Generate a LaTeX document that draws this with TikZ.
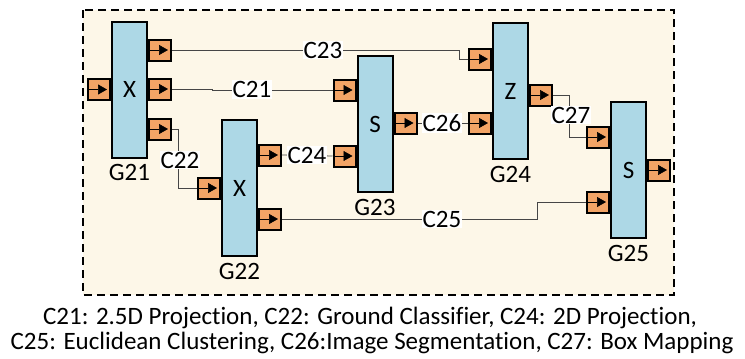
\documentclass[tikz,border=0pt]{standalone}
\usepackage{fontspec}
\setmainfont{Carlito}[Ligatures=NoCommon]
\usetikzlibrary{arrows.meta}
\definecolor{blockblue}{HTML}{ADD8E6}
\definecolor{portorange}{HTML}{F2A466}
\definecolor{cream}{HTML}{FDF7E8}

\begin{document}
\begin{tikzpicture}[x=1pt,y=-1pt,
  frame/.style={draw,line width=1.8pt,dash pattern=on 8pt off 5pt,fill=cream},
  block/.style={draw,line width=2pt,fill=blockblue,minimum width=35pt,minimum height=136pt,inner sep=0pt,font=\fontsize{25}{25}\selectfont},
  port/.style={draw,line width=2pt,fill=portorange,minimum width=22pt,minimum height=21pt,inner sep=0pt,
    path picture={\draw[line width=0.6pt,-{Triangle[length=9pt,width=10pt]}] (path picture bounding box.west) -- ([xshift=-3pt]path picture bounding box.east);}},
  wire/.style={draw=gray!55!black,line width=0.8pt},
  wlabel/.style={fill=white,inner sep=1pt,font=\fontsize{25}{25}\selectfont},
  gname/.style={anchor=north,inner sep=0pt,font=\fontsize{25}{25}\selectfont},
  caption/.style={font=\fontsize{25}{26}\selectfont}]
  \useasboundingbox (0,0) rectangle (745,359);
  \draw[frame] (83,10) rectangle (674,295);
  % blocks
  \foreach \blk/\x/\y/\t in {g21/129.5/89.5/X,g22/239.5/188/X,g23/375/124/S,g24/510.5/91/Z,g25/628.5/170/S}
    { \node[block] (\blk) at (\x,\y) {\t}; }
  \foreach \blk/\t in {g21/G21,g22/G22,g23/G23,g24/G24,g25/G25}
    { \node[gname] (\blk name) at ([yshift=-6pt]\blk.south) {\t}; }
  % input ports
  \foreach \blk/\k/\y in {g21/1/89.5,g22/1/188,g23/1/90,g23/2/156,g24/1/59,g24/2/123,g25/1/137,g25/2/202}
    { \node[port,anchor=east] (\blk i\k) at (\blk.west |- 0,\y) {}; }
  % output ports
  \foreach \blk/\k/\y in {g21/1/50,g21/2/89,g21/3/129,g22/1/155,g22/2/219,g23/1/123,g24/1/95,g25/1/170}
    { \node[port,anchor=west] (\blk o\k) at (\blk.east |- 0,\y) {}; }
  % wires
  \draw[wire] (g21o1.east) -| ([xshift=-9pt]g24i1.west) -- (g24i1.west);
  \draw[wire] (g21o2.east) -- ++(40,0) |- (g23i1.west);
  \draw[wire] (g21o3.east) -| ([xshift=-19pt]g22i1.west) -- (g22i1.west);
  \draw[wire] (g22o1.east) -- (g23i2.west);
  \draw[wire] (g22o2.east) -| ([xshift=-49pt]g25i2.west) -- (g25i2.west);
  \draw[wire] (g23o1.east) -- (g24i2.west);
  \draw[wire] (g24o1.east) -| ([xshift=-17pt]g25i1.west) -- (g25i1.west);
  % wire labels
  \node[wlabel] (c21) at (252,89.5) {C21};
  \node[wlabel] (c22) at (180,160) {C22};
  \node[wlabel] (c23) at (323,50) {C23};
  \node[wlabel] (c24) at (307,155) {C24};
  \node[wlabel] (c25) at (442,219) {C25};
  \node[wlabel] (c26) at (442,123) {C26};
  \node[wlabel] (c27) at (571,115) {C27};
  % caption
  \node[caption] (cap1) at (370,318) {C21: 2.5D Projection, C22: Ground Classifier, C24: 2D Projection,};
  \node[caption] (cap2) at (372,343) {C25: Euclidean Clustering, C26:Image Segmentation, C27: Box Mapping};
\end{tikzpicture}
\end{document}
